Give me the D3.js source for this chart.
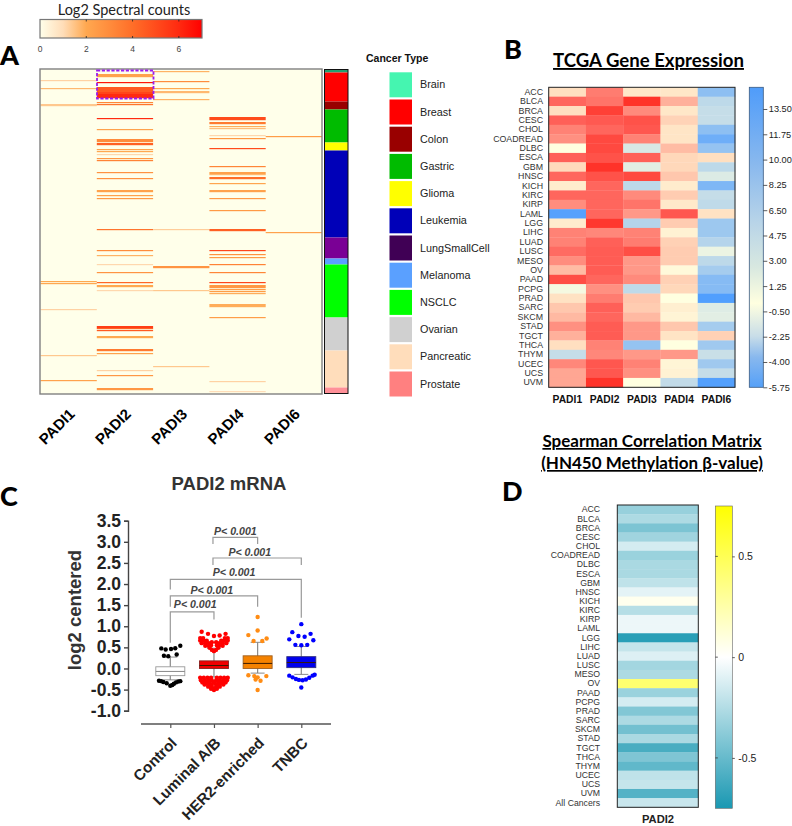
<!DOCTYPE html>
<html><head><meta charset="utf-8">
<script src="https://cdn.jsdelivr.net/npm/d3@7"></script>
<style>
html,body{margin:0;padding:0;background:#fff}
svg{display:block}
text{font-family:"Liberation Sans",Arial,sans-serif}
.cal{font-family:Lato,"Open Sans",sans-serif}
</style></head><body><svg id="c" width="792" height="826"></svg>
<script>
// ---------- Panel A data: [row, log2 spectral count, number of rows] ----------
const genesA = ["PADI1","PADI2","PADI3","PADI4","PADI6"];
const padi1Hits = [[11,1.2,1],[19,1.7,1],[35,1.4,2],[212,2,1],[214,2,1],[240,1.2,1],[286,1.4,1],[311,2.2,1]];
const padi2Hits = [[5,2.2,3],[13,6.5,1],[18,4.6,5],[23,5.2,2],[25,6,4],[33,3.2,1],[35,3.8,1],[49,6,1],[60,2.2,1],
 [70,3,3],[74,4.4,2],[80,2.2,1],[82,2,1],[85,1.1,1],[89,2.6,1],[91,3.3,1],[103,2.8,1],[109,2.8,1],[121,2.2,2],[126,2.2,1],[129,2.5,1],[160,3.8,1],
 [181,3,1],[186,1.8,1],[195,1.1,1],[203,2.7,1],[213,4.2,1],[216,2,2],[221,1.1,1],[257,5.4,2],[259,4.4,1],[261,4.6,1],[267,2,2],[280,3.6,2],[284,2.2,1],[301,1.2,1],[306,2.6,1],[319,2.6,2]];
const padi3Hits = [[2,1.8,1],[12,3,1],[19,2,1],[22,1.7,2],[30,1.8,1],[160,1.3,1],[197,2.7,2],[221,1.4,1],[297,1.4,1]];
const padi4Hits = [[48,5,3],[53,3.6,2],[57,1.9,1],[59,1.6,1],[66,1.1,1],[69,2.6,1],[79,5,1],[97,3.2,1],[103,2.2,2],[105,1.7,1],[108,4,2],[114,2.1,1],[121,2.2,2],[129,2.5,1],[141,2.5,1],[160,4.4,2],
 [181,5.2,1],[185,2.8,1],[188,2.5,1],[195,3.3,1],[203,3.2,1],[213,5.2,1],[216,2.6,3],[220,2.4,1],[222,2.4,1],[224,1.9,1],[235,1.9,3],[248,2.4,1],[312,1.2,1],[322,1,1]];
const padi6Hits = [[67,2.4,1],[163,2.2,1]];
const hitsA = [padi1Hits,padi2Hits,padi3Hits,padi4Hits,padi6Hits];
const rowCountA = 325;
const cancerTypes = ["Brain","Breast","Colon","Gastric","Glioma","Leukemia","LungSmallCell","Melanoma","NSCLC","Ovarian","Pancreatic","Prostate"];
const cancerSwatch = ["#45F5B0","#FF0000","#990000","#00BB00","#FFFF00","#0000B8","#400055","#5AA0FF","#00FF00","#D0D0D0","#FFDDBB","#FF8080"];
const cancerBarColor = ["#20A070","#FF0000","#990000","#00BB00","#FFFF00","#0000B8","#7A0095","#5AA0FF","#00FF00","#D0D0D0","#FFDDBB","#FF9098"];
const cancerRowCounts = [3,29,8,33,8,87,21,6,53,33,37,6];
const spectralTicks = [0,2,4,6];

// ---------- Panel B data ----------
const tcgaCodes = ["ACC","BLCA","BRCA","CESC","CHOL","COADREAD","DLBC","ESCA","GBM","HNSC","KICH","KIRC","KIRP","LAML","LGG","LIHC","LUAD","LUSC","MESO","OV","PAAD","PCPG","PRAD","SARC","SKCM","STAD","TGCT","THCA","THYM","UCEC","UCS","UVM"];
const genesB = ["PADI1","PADI2","PADI3","PADI4","PADI6"];
const exprPadi1 = [7,11.8,7,12,10.8,10.3,5,12,7.2,11.8,6.2,11.8,10.4,-5,6.2,10.8,10.8,11.6,10.4,8.5,13,4.5,6.8,8,8.6,10.3,9,7,2,10.6,9.4,9.4];
const exprPadi2 = [11,11.3,13.8,12.4,11.8,13.3,13.3,12.8,14.5,12.8,11.8,11.8,11.8,11.8,14.2,10.6,12,12.2,12.2,12.2,11.8,10.3,11,12,11.8,12.2,12.2,10.8,10.6,12.5,12.5,14.5];
const exprPadi3 = [6.5,14.5,10.5,12.8,12.5,10.8,3,12,3.5,13.3,1.5,10.5,11.3,10,1,10.8,11,13,10,10,10.5,1.6,8,7.8,8.6,10,10,-1,10,10.8,10.3,5];
const exprPadi4 = [6.5,9,6.5,7.5,6.6,6.6,8.5,7.3,7.3,8,6.2,7.8,6.4,12.5,7.8,5.8,7.6,7.8,7.8,5.4,7.6,7.3,5,6,5.7,8,6.7,5,10,5.6,5.8,1.8];
const exprPadi6 = [-1.5,1.5,2,2,-1.5,-3.5,-1,7,1.5,3.2,-2.5,2,1.6,6.8,-0.5,-0.5,1,4,1.5,0,-2,-2,-5.3,3.3,3.5,0,7.6,-0.3,2.2,-0.3,2,-5.2];
const exprColumns = [exprPadi1,exprPadi2,exprPadi3,exprPadi4,exprPadi6];
const exprTicks = [13.5,11.75,10,8.25,6.5,4.75,3,1.25,-0.5,-2.25,-4,-5.75];

// ---------- Panel C data ----------
const subtypes = ["Control","Luminal A/B","HER2-enriched","TNBC"];
const boxStats = [ // low whisker, q1, median, q3, high whisker
 [-0.27,-0.17,-0.07,0.04,0.27],
 [-0.2,0,0.07,0.18,0.48],
 [-0.11,0,0.12,0.3,0.62],
 [-0.14,0.02,0.14,0.28,0.52]];
const boxFill = ["#ffffff","#F00000","#F58200","#0000EE"];
const boxEdge = ["#999999","#8a2020","#a06020","#303080"];
const dotFill = ["#000000","#FF0000","#FF8C14","#0000FF"];
const controlOut = [[-.62,.476],[-.32,.45],[.05,.46],[.34,.48],[.69,.54],[-.44,.3],[-.14,.29],[.44,.33],[-.78,-.29],[-.62,-.3],[-.48,-.32],[-.25,-.35],[0,-.41],[.14,-.39],[.25,-.36],[.39,-.33],[.55,-.31],[.69,-.3]];
const luminalOut = [[-.85,.87],[-.41,.82],[0,.77],[.39,.78],[.8,.82],
 [-.95,.72],[-.75,.72],[.75,.72],[.95,.72],[-.95,.66],[-.7,.66],[-.5,.66],[.5,.66],[.7,.66],[.95,.66],
 [-.85,.6],[-.6,.6],[-.35,.6],[-.15,.62],[.15,.62],[.35,.6],[.6,.6],[.85,.6],
 [-.6,.54],[-.35,.54],[-.2,.55],[.2,.55],[.35,.54],[.6,.54],[-.3,.49],[-.14,.44],[.14,.44],[.3,.49],[0,.41],
 [-.95,-.22],[-.7,-.22],[-.45,-.22],[-.2,-.22],[.2,-.22],[.45,-.22],[.7,-.22],[.95,-.22],
 [-.9,-.28],[-.65,-.28],[-.4,-.28],[-.15,-.28],[.15,-.28],[.4,-.28],[.65,-.28],[.9,-.28],
 [-.8,-.33],[-.55,-.33],[-.3,-.33],[0,-.33],[.3,-.33],[.55,-.33],[.8,-.33],
 [-.65,-.38],[-.4,-.38],[-.15,-.38],[.15,-.38],[.4,-.38],[.65,-.38],[-.4,-.43],[-.15,-.43],[.15,-.43],[.4,-.43],[-.2,-.48],[0,-.48],[.2,-.48],[0,-.51]];
const her2Out = [[0,1.22],[0,.9],[-.64,.79],[.62,.71],[-.28,.65],[.32,.65],[-.64,-.16],[-.23,-.18],[.6,-.18],[0,-.21],[-.14,-.26],[.2,-.29],[0,-.51]];
const tnbcOut = [[0,1.05],[-.62,.86],[.64,.82],[-.2,.77],[.23,.75],[-.83,.69],[.83,.67],[-.41,.56],[0,.55],[.41,.56],
 [-.83,-.17],[-.6,-.21],[-.37,-.25],[-.16,-.27],[.09,-.28],[.32,-.26],[.55,-.22],[.78,-.17],[.92,-.15],[0,-.45]];
const outliers = [controlOut,luminalOut,her2Out,tnbcOut];
const yTicksC = [-1,-0.5,0,0.5,1,1.5,2,2.5,3,3.5];
const brackets = [ // from, to, top value, left end, right end, label value, label position between groups
 [1,2,3.105,2.95,2.95,3.17,1.49],
 [1,3,2.616,2.45,2.45,2.66,1.82],
 [0,3,2.11,1.87,1.2,2.19,1.46],
 [0,2,1.72,1.46,1.46,1.76,0.95],
 [0,1,1.34,0.61,1.16,1.44,0.57]];
const pLabel = "P< 0.001";

// ---------- Panel D data ----------
const methCodes = tcgaCodes.concat(["All Cancers"]);
const methValues = [-.34,-.27,-.43,-.31,-.14,-.33,-.28,-.28,-.21,-.09,.05,-.24,-.06,-.06,-.7,-.19,-.11,-.3,-.27,.42,-.33,-.14,-.41,-.27,-.46,-.28,-.6,-.42,-.52,-.21,-.19,-.56,-.18];
const methTicks = [-0.5,0,0.5];

// ---------- Drawing ----------
const hyphen = f => d => f(d).replace("\u2212","-");
const svg = d3.select("#c");
const defs = svg.append("defs");
function gradient(id, stops){
  const g = defs.append("linearGradient").attr("id",id).attr("x1",0).attr("x2",0).attr("y1",1).attr("y2",0);
  stops.forEach(s=>g.append("stop").attr("offset",s[0]).attr("stop-color",s[1]));
  return "url(#"+id+")";
}
function letter(t,x,y){svg.append("text").attr("class","cal").attr("x",x).attr("y",y).attr("font-size",27).attr("font-weight",900).attr("fill","#000").text(t);}
letter("A",0,65);letter("B",504,59);letter("C",0,506);letter("D",502,501);

// Panel A
const specColor = d3.scaleLinear().domain([0,1,2,3,4,6,7]).range(["#FFFFEA","#FFDDB8","#FFA850","#FF8C3C","#FF6E28","#FF2A10","#FF0000"]);
const xA = d3.scaleBand().domain(genesA).range([40.5,322]);
const yA = d3.scaleLinear().domain([0,rowCountA]).range([69,394]);
const gA = svg.append("g");
gA.append("rect").attr("x",40).attr("y",69).attr("width",282).attr("height",325).attr("fill",specColor(0));
hitsA.forEach((hits,i)=>{
  gA.selectAll(null).data(hits).join("rect")
    .attr("x",xA(genesA[i])).attr("width",xA.bandwidth())
    .attr("y",d=>yA(d[0])).attr("height",d=>yA(d[2])-yA(0)+0.2)
    .attr("fill",d=>specColor(d[1]));
});
gA.append("rect").attr("x",40).attr("y",69).attr("width",282).attr("height",325).attr("fill","none").attr("stroke","#808080").attr("stroke-width",1.4);
gA.append("rect").attr("x",97).attr("y",70.5).attr("width",56.5).attr("height",28).attr("fill","none").attr("stroke","#9B1BF0").attr("stroke-width",1.8).attr("stroke-dasharray","3.2 1.6");
const axisAx = d3.axisBottom(xA).tickSize(0);
const gAx = svg.append("g").attr("transform","translate(0,394)").call(axisAx);
gAx.select(".domain").remove();
gAx.selectAll("text").attr("font-size",15).attr("font-weight","bold").attr("fill","#000")
  .attr("text-anchor","end").attr("dy",0).attr("y",0)
  .attr("transform","translate(7,21) rotate(-45)");
// annotation bar
let rowCursor = 0;
const yBar = d3.scaleLinear().domain([0,d3.sum(cancerRowCounts)]).range([69.5,393.5]);
cancerRowCounts.forEach((n,i)=>{
  svg.append("rect").attr("x",324.5).attr("width",23.5).attr("y",yBar(rowCursor)).attr("height",yBar(rowCursor+n)-yBar(rowCursor)).attr("fill",cancerBarColor[i]);
  rowCursor+=n;
});
svg.append("rect").attr("x",324.5).attr("y",69.5).attr("width",23.5).attr("height",324).attr("fill","none").attr("stroke","#111").attr("stroke-width",1);
// spectral colour bar
const xSpec = d3.scaleLinear().domain([0,7]).range([40,202]);
const specFill = (()=>{const g=defs.append("linearGradient").attr("id","spec");
  d3.range(0,7.01,0.5).forEach(v=>g.append("stop").attr("offset",v/7).attr("stop-color",specColor(v)));return "url(#spec)";})();
svg.append("rect").attr("x",40).attr("y",19.5).attr("width",162).attr("height",18.5).attr("fill",specFill).attr("stroke","#777").attr("stroke-width",1.2);
svg.selectAll(null).data(spectralTicks.slice(1)).join("path").attr("d",d=>`M${xSpec(d)},19.5v2M${xSpec(d)},38v-2`).attr("stroke","#222").attr("stroke-width",.8);
svg.selectAll(null).data(spectralTicks).join("text").attr("x",d=>xSpec(d)).attr("y",52).attr("text-anchor","middle").attr("font-size",8.5).attr("fill","#444").text(d=>d);
svg.append("text").attr("class","cal").attr("x",124).attr("y",14.8).attr("text-anchor","middle").attr("font-size",14.5).attr("fill","#222").text("Log2 Spectral counts");
// legend
svg.append("text").attr("x",366).attr("y",62).attr("font-size",10.5).attr("font-weight","bold").attr("fill","#111").text("Cancer Type");
const yLeg = d3.scalePoint().domain(cancerTypes).range([72.3,371.5]);
cancerTypes.forEach((c,i)=>{
  svg.append("rect").attr("x",389.5).attr("y",yLeg(c)).attr("width",22.5).attr("height",25).attr("fill",cancerSwatch[i]);
  svg.append("text").attr("x",420).attr("y",yLeg(c)+16).attr("font-size",10.8).attr("fill","#222").text(c);
});

// Panel B
svg.append("text").attr("class","cal").attr("x",648.5).attr("y",67).attr("text-anchor","middle").attr("font-size",18.6).attr("font-weight","bold").attr("fill","#000").attr("text-decoration","underline").text("TCGA Gene Expression");
const exprColor = d3.scaleLinear().domain([-5.75,2,5,7,10,12,15]).range(["#4A9BFF","#C5DDE8","#FFFFE0","#FFDFC0","#FF9888","#FF6058","#FF2A20"]);
const xB = d3.scaleBand().domain(genesB).range([548.7,735]);
const yB = d3.scaleBand().domain(tcgaCodes).range([87.3,387.3]);
exprColumns.forEach((col,i)=>{
  svg.selectAll(null).data(col).join("rect")
    .attr("x",xB(genesB[i])).attr("width",xB.bandwidth()+.3)
    .attr("y",(d,j)=>yB(tcgaCodes[j])).attr("height",yB.bandwidth()+.3)
    .attr("fill",d=>exprColor(d));
});
svg.append("rect").attr("x",548.7).attr("y",87.3).attr("width",186.3).attr("height",300).attr("fill","none").attr("stroke","#222").attr("stroke-width",1);
const gBy = svg.append("g").attr("transform","translate(545,0)").call(d3.axisLeft(yB).tickSize(0));
gBy.select(".domain").remove();
gBy.selectAll("text").attr("font-size",8.8).attr("fill","#333").attr("x",-2);
const gBx = svg.append("g").attr("transform","translate(0,387)").call(d3.axisBottom(xB).tickSize(0));
gBx.select(".domain").remove();
gBx.selectAll("text").attr("font-size",10.3).attr("font-weight","bold").attr("fill","#111").attr("y",16).attr("dy",0);
// B colour bar (blue at both ends, as printed)
const cbB = d3.scaleLinear().domain([-5.75,15]).range([387.3,87.3]);
const gradB = gradient("gb",[[0,"#55A0F8"],[0.1,"#88B8EE"],[0.17,"#C8DDE8"],[0.28,"#FFFFE0"],[0.4,"#D8E8E0"],[0.55,"#B8D4E8"],[0.75,"#88B8EE"],[1,"#4F9CFA"]]);
svg.append("rect").attr("x",749.3).attr("y",87.3).attr("width",14).attr("height",300).attr("fill",gradB).attr("stroke","#3a5a80").attr("stroke-width",.8);
const gBc = svg.append("g").attr("transform","translate(763.3,0)").call(d3.axisRight(cbB).tickValues(exprTicks).tickFormat(hyphen(d3.format(".2f"))).tickSize(4));
gBc.select(".domain").remove();
gBc.selectAll("text").attr("font-size",9.2).attr("fill","#222").attr("x",5.5);
gBc.selectAll("line").attr("stroke","#333").attr("stroke-width",.8);

// Panel C
svg.append("text").attr("x",229).attr("y",490).attr("text-anchor","middle").attr("font-size",18.5).attr("font-weight","bold").attr("fill","#333").text("PADI2 mRNA");
const yC = d3.scaleLinear().domain([-1,3.5]).range([710.7,520.7]);
const xC = d3.scalePoint().domain(subtypes).range([170.3,301.3]);
const dx = d3.scaleLinear().domain([-1,1]).range([-14.5,14.5]);
const gCy = svg.append("g").attr("transform","translate(128,0)").call(d3.axisLeft(yC).tickValues(yTicksC).tickFormat(hyphen(d3.format(".1f"))).tickSize(4));
gCy.selectAll("text").attr("font-size",17.5).attr("font-weight","bold").attr("fill","#222").attr("x",-7);
gCy.select(".domain").attr("stroke","#444").attr("stroke-width",1.4);
gCy.selectAll("line").attr("stroke","#444").attr("stroke-width",1.4);
svg.append("text").attr("transform","translate(81,610) rotate(-90)").attr("text-anchor","middle").attr("font-size",18.5).attr("font-weight","bold").attr("fill","#333").text("log2 centered");
svg.append("line").attr("x1",141).attr("x2",331).attr("y1",724).attr("y2",724).attr("stroke","#555").attr("stroke-width",1.4);
const gCx = svg.append("g").attr("transform","translate(0,724)").call(d3.axisBottom(xC).tickSize(4));
gCx.select(".domain").remove();
gCx.selectAll("line").attr("stroke","#555").attr("stroke-width",1.2);
gCx.selectAll("text").attr("font-size",15.2).attr("font-weight","bold").attr("fill","#222")
  .attr("text-anchor","end").attr("y",0).attr("dy",0).attr("transform","translate(7,20) rotate(-45)");
subtypes.forEach((s,i)=>{
  const cx=xC(s),b=boxStats[i],hw=14.5;
  svg.append("line").attr("x1",cx).attr("x2",cx).attr("y1",yC(b[0])).attr("y2",yC(b[4])).attr("stroke","#8a8a8a").attr("stroke-width",1.2);
  [b[0],b[4]].forEach(v=>svg.append("line").attr("x1",cx-7).attr("x2",cx+7).attr("y1",yC(v)).attr("y2",yC(v)).attr("stroke","#8a8a8a").attr("stroke-width",1));
  svg.selectAll(null).data(outliers[i]).join("circle")
    .attr("cx",d=>cx+dx(d[0])).attr("cy",d=>yC(d[1])).attr("r",2.2).attr("fill",dotFill[i]);
  svg.append("rect").attr("x",cx-hw).attr("width",2*hw).attr("y",yC(b[3])).attr("height",yC(b[1])-yC(b[3])).attr("fill",boxFill[i]).attr("stroke",boxEdge[i]).attr("stroke-width",.9);
  svg.append("line").attr("x1",cx-hw).attr("x2",cx+hw).attr("y1",yC(b[2])).attr("y2",yC(b[2])).attr("stroke",i==0?"#888":"#3a1a00").attr("stroke-width",1);
});
const groupPos = d3.scaleLinear().domain([0,3]).range([170.3,301.3]);
brackets.forEach(b=>{
  const x1=groupPos(b[0])+(b[0]==1?-1:0), x2=groupPos(b[1]);
  svg.append("path").attr("fill","none").attr("stroke","#9a9a9a").attr("stroke-width",1.2)
    .attr("d",`M${x1},${yC(b[3])}V${yC(b[2])}H${x2}V${yC(b[4])}`);
  svg.append("text").attr("x",groupPos(b[6])).attr("y",yC(b[5])).attr("text-anchor","middle")
    .attr("font-size",10.6).attr("font-style","italic").attr("font-weight","bold").attr("fill","#444").text(pLabel);
});

// Panel D
[["Spearman Correlation Matrix",447],["(HN450 Methylation \u03B2-value)",469]].forEach(t=>{
  svg.append("text").attr("class","cal").attr("x",652).attr("y",t[1]).attr("text-anchor","middle").attr("font-size",17).attr("font-weight","bold").attr("fill","#000").attr("text-decoration","underline").text(t[0]);
});
const methColor = d3.scaleLinear().domain([-0.75,0,0.75]).range(["#1A98B2","#FFFFFF","#FFFF00"]);
const yD = d3.scaleBand().domain(methCodes).range([505,807.3]);
svg.selectAll(null).data(methValues).join("rect")
  .attr("x",617.3).attr("width",81).attr("y",(d,i)=>yD(methCodes[i])).attr("height",yD.bandwidth()+.3)
  .attr("fill",d=>methColor(d));
svg.append("rect").attr("x",617.3).attr("y",505).attr("width",81).attr("height",302.3).attr("fill","none").attr("stroke","#222").attr("stroke-width",1);
const gDy = svg.append("g").attr("transform","translate(602,0)").call(d3.axisLeft(yD).tickSize(0));
gDy.select(".domain").remove();
gDy.selectAll("text").attr("font-size",8.7).attr("fill","#333").attr("x",-2);
svg.append("text").attr("x",658).attr("y",823).attr("text-anchor","middle").attr("font-size",11.2).attr("font-weight","bold").attr("fill","#222").text("PADI2");
const cbD = d3.scaleLinear().domain([-0.75,0.75]).range([808.3,506]);
const gradD = gradient("gd",[[0,methColor(-.75)],[.5,methColor(0)],[1,methColor(.75)]]);
svg.append("rect").attr("x",715.3).attr("y",506).attr("width",17).attr("height",302.3).attr("fill",gradD).attr("stroke","#666").attr("stroke-width",.6);
const gDc = svg.append("g").attr("transform","translate(732.3,0)").call(d3.axisRight(cbD).tickValues(methTicks).tickFormat(d=>d).tickSize(2.5));
gDc.select(".domain").remove();
gDc.selectAll("text").attr("font-size",10.5).attr("fill","#222").attr("x",6);
gDc.selectAll("line").attr("stroke","#333").attr("stroke-width",.8);
svg.selectAll(null).data(methTicks).join("line").attr("x1",715.3).attr("x2",717.8).attr("y1",d=>cbD(d)).attr("y2",d=>cbD(d)).attr("stroke","#333").attr("stroke-width",.8);
</script></body></html>
